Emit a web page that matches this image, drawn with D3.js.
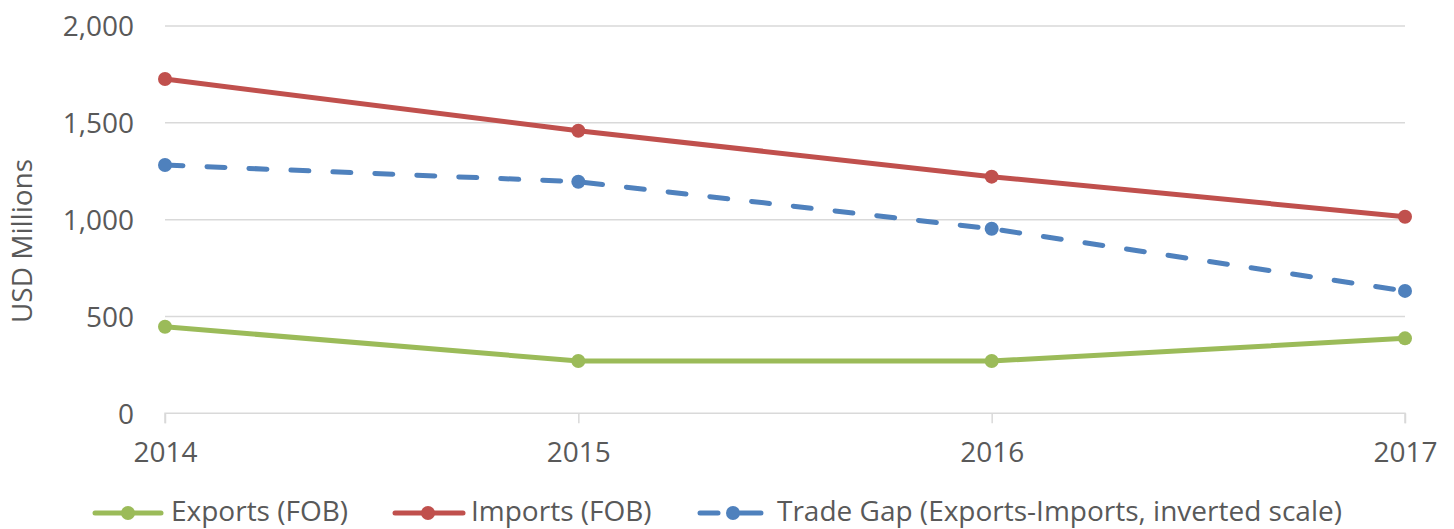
<!DOCTYPE html>
<html><head><meta charset="utf-8">
<script src="https://cdn.jsdelivr.net/npm/d3@7"></script>
<style>body{margin:0;background:#fff}svg{display:block}text{font-family:"Open Sans",sans-serif;fill:#595959}</style>
</head><body><svg id="c" width="1454" height="529"></svg>
<script>
const years = ["2014","2015","2016","2017"];
const exportsFOB = [447, 270, 270, 387];
const importsFOB = [1726, 1459, 1222, 1015];
const tradeGap = [1282, 1196, 953, 632];
const yTicks = [0, 500, 1000, 1500, 2000];
const seriesNames = ["Exports (FOB)", "Imports (FOB)", "Trade Gap (Exports-Imports, inverted scale)"];
const colors = ["#9BBB59", "#C0504D", "#4F81BD"];

const svg = d3.select("#c");
const x = d3.scalePoint().domain(years).range([165, 1405]);
const y = d3.scaleLinear().domain([0, 2000]).range([413.3, 26]);
const fs = 28;

// gridlines
svg.append("g").selectAll("line").data(yTicks.filter(d=>d>0)).join("line")
  .attr("x1", 165).attr("x2", 1405).attr("y1", d=>y(d)).attr("y2", d=>y(d))
  .attr("stroke", "#D9D9D9").attr("stroke-width", 1.5);

// x axis
const xa = svg.append("g").attr("transform", `translate(0,${y(0)})`)
  .call(d3.axisBottom(x).tickSize(10).tickPadding(0));
xa.select(".domain").attr("stroke", "#D9D9D9").attr("stroke-width", 1.5).attr("d", "M165,10V0H1405V10");
xa.selectAll(".tick line").attr("stroke", "#D9D9D9").attr("stroke-width", 1.5);
xa.selectAll("text").style("font-size", fs+"px").attr("fill", "#595959").attr("y", 39).attr("dy", "0.35em");

// y axis labels
const ya = svg.append("g").attr("transform", "translate(134,0)")
  .call(d3.axisLeft(y).tickValues(yTicks).tickSize(0).tickPadding(0).tickFormat(d3.format(",")));
ya.select(".domain").remove();
ya.selectAll("text").style("font-size", fs+"px").attr("fill", "#595959").attr("dy", "0.35em");

svg.append("text").attr("transform", "translate(22,241) rotate(-90)").attr("text-anchor", "middle")
  .attr("dy", "0.35em").style("font-size", fs+"px").text("USD Millions");

const data = [exportsFOB, importsFOB, tradeGap];
const line = d3.line().x((d,i)=>x(years[i])).y(d=>y(d));
data.forEach((s, k) => {
  const g = svg.append("g");
  g.append("path").attr("d", line(s)).attr("fill", "none").attr("stroke", colors[k])
    .attr("stroke-width", 5).attr("stroke-linecap", k===2?"round":"butt")
    .attr("stroke-dasharray", k===2 ? "18,24" : null);
  g.selectAll("circle").data(s).join("circle").attr("cx", (d,i)=>x(years[i])).attr("cy", d=>y(d))
    .attr("r", 7).attr("fill", colors[k]);
});

// legend
const ly = 513;
const leg = [{x0:95,x1:161,m:128,tx:171},{x0:395,x1:463,m:428,tx:471},{x0:700,x1:761,m:733,tx:777}];
leg.forEach((l,k)=>{
  const g = svg.append("g");
  if (k===2) {
    g.append("line").attr("x1",700).attr("x2",718).attr("y1",ly).attr("y2",ly).attr("stroke",colors[k]).attr("stroke-width",5).attr("stroke-linecap","round");
    g.append("line").attr("x1",740).attr("x2",761).attr("y1",ly).attr("y2",ly).attr("stroke",colors[k]).attr("stroke-width",5).attr("stroke-linecap","round");
  } else {
    g.append("line").attr("x1",l.x0).attr("x2",l.x1).attr("y1",ly).attr("y2",ly).attr("stroke",colors[k]).attr("stroke-width",5).attr("stroke-linecap","round");
  }
  g.append("circle").attr("cx",l.m).attr("cy",ly).attr("r",7).attr("fill",colors[k]);
  g.append("text").attr("x",l.tx).attr("y",521).style("font-size",fs+"px").text(seriesNames[k]);
});
</script></body></html>
